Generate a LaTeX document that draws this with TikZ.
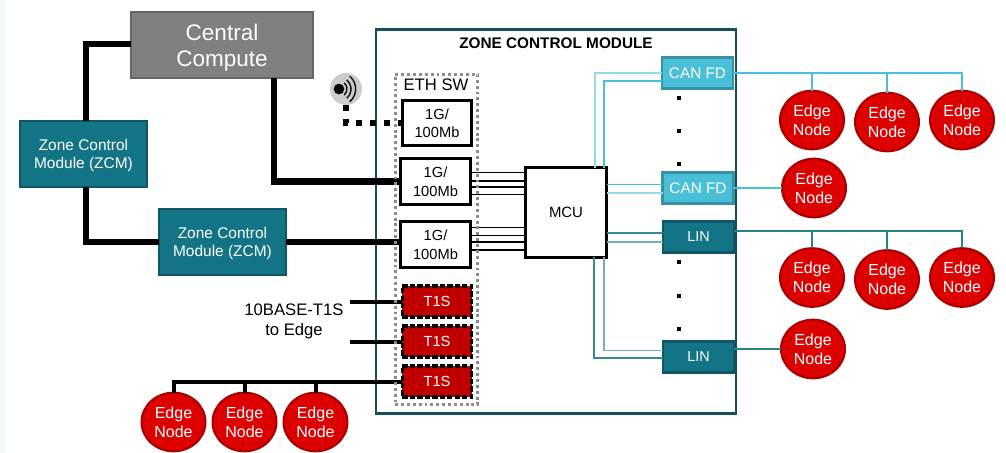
\documentclass[tikz,border=0pt]{standalone}
\usepackage{fontspec}
\setmainfont{Liberation Sans}
\usepackage{tikz}
\usetikzlibrary{positioning, shapes.geometric}
\definecolor{zcmteal}{HTML}{127485}
\definecolor{zcmedge}{HTML}{0F5766}
\definecolor{framedark}{HTML}{134F5C}
\definecolor{canblue}{HTML}{4ABFD8}
\definecolor{canedge}{HTML}{3A90A4}
\definecolor{canpale}{HTML}{95DAE9}
\definecolor{linpale}{HTML}{74B0BD}
\definecolor{edgered}{HTML}{DD0000}
\definecolor{edgedark}{HTML}{A80000}
\definecolor{tonesred}{HTML}{C00000}
\definecolor{stripe}{HTML}{F0F9FC}
\newcommand{\fsz}[2]{\fontsize{#1}{#2}\selectfont}

\begin{document}
\begin{tikzpicture}[
    x=0.75pt, y=-0.75pt,
    central/.style={draw=black!60, line width=1.5pt, fill=black!50, text=white, align=center, text depth=-1pt,
                    minimum width=137pt, minimum height=49pt, font=\fsz{16.9}{19.5}},
    zcm/.style={draw=zcmedge, line width=1.5pt, fill=zcmteal, text=white, align=center, text depth=-0.8pt,
                minimum width=95pt, minimum height=49.5pt, font=\fsz{11.6}{13.3}},
    zone/.style={draw=framedark, line width=2.2pt, fill=white, minimum width=270pt, minimum height=288pt},
    swbox/.style={draw=black!45, line width=2.2pt, dash pattern=on 2.2pt off 2.2pt,
                  minimum width=62pt, minimum height=248pt},
    port/.style={draw, line width=2.2pt, fill=white, align=center, text depth=-2.5pt,
                 minimum width=52pt, minimum height=34pt, font=\fsz{11}{13.8}},
    tones/.style={draw, line width=2.4pt, dashed, dash pattern=on 4pt off 1.6pt, fill=tonesred, text=white,
                  minimum width=52pt, minimum height=23.25pt, font=\fsz{11}{13}},
    mcubox/.style={draw, line width=2.2pt, fill=white, minimum width=61pt, minimum height=67pt, font=\fsz{11.2}{13}},
    canbox/.style={draw=canedge, line width=1.8pt, fill=canblue, text=white, text depth=-1.5pt,
                   minimum width=53pt, minimum height=23.5pt, font=\fsz{11.5}{13}},
    linbox/.style={draw=zcmedge, line width=1.8pt, fill=zcmteal, text=white, text depth=-1.5pt,
                   minimum width=53pt, minimum height=23.5pt, font=\fsz{10.8}{13}},
    edgenode/.style={ellipse, draw=edgedark, line width=1.5pt, fill=edgered, text=white, align=center, text depth=-2.5pt,
                     inner sep=0pt, minimum width=48pt, minimum height=44pt, font=\fsz{12}{14.25}},
    gapdot/.style={fill=black, inner sep=0pt, minimum size=3.2pt},
    trunk/.style={line width=4.9pt},
    stub/.style={line width=3pt},
    air/.style={line width=4.5pt, dash pattern=on 4.5pt off 6pt},
    bus/.style={line width=0.8pt, black},
    canwire/.style={line width=2.2pt, canblue},
    linwire/.style={line width=1.6pt, zcmteal!90!white},
    every node/.style={outer sep=0pt},
    node distance=8.25pt and 8.25pt,
]
\useasboundingbox (0,0) rectangle (1006,453);
\fill[stripe] (0,0) rectangle (5,453);

\node[zone] (zone) at (556,221.5) {};
\node[font=\bfseries\fsz{11.5}{13}] (title) at (556,43) {ZONE CONTROL MODULE};

\node[central] (cc) at (222,45) {Central\\Compute};
\node[zcm] (zcm1) at (83.5,154) {Zone Control\\Module (ZCM)};
\node[zcm] (zcm2) at (222.5,242) {Zone Control\\Module (ZCM)};

\node[port] (sw1) at (437,123) {1G/\\100Mb};
\node[port] (sw2) at (435.5,181.5) {1G/\\100Mb};
\node[port] (sw3) at (435.5,244.5) {1G/\\100Mb};
\node[tones] (t1) at (437,301.5) {T1S};
\node[tones, below=6.75pt of t1] (t2) {T1S};
\node[tones, below=6.75pt of t2] (t3) {T1S};
\node[font=\fsz{12.5}{15}, align=center] (tolabel) at (294,321.5) {10BASE-T1S\\to Edge};
\coordinate (tofree1) at (350,301.5);
\coordinate (tofree2) at (350,341.5);

\node[mcubox] (mcu) at (566,212.5) {MCU};
\node[canbox] (can1) at (697.5,73) {CAN FD};
\node[canbox] (can2) at (698,188) {CAN FD};
\node[linbox] (lin1) at (698.5,237) {LIN};
\node[linbox] (lin2) at (698.5,357) {LIN};

\foreach \y [count=\i] in {98,131,164} \node[gapdot] (cdot\i) at (679,\y) {};
\foreach \y [count=\i] in {262,296,329} \node[gapdot] (ldot\i) at (679,\y) {};

\node[edgenode] (ea1) at (812,120) {Edge\\Node};
\node[edgenode, right=of ea1, yshift=-1.5pt] (ea2) {Edge\\Node};
\node[edgenode, right=of ea2, yshift=1.5pt] (ea3) {Edge\\Node};
\node[edgenode] (ea4) at (814,188) {Edge\\Node};
\node[edgenode] (eb1) at (812,277.5) {Edge\\Node};
\node[edgenode, right=of eb1, yshift=-1.5pt] (eb2) {Edge\\Node};
\node[edgenode, right=of eb2, yshift=1.5pt] (eb3) {Edge\\Node};
\node[edgenode] (eb4) at (813,349) {Edge\\Node};
\node[edgenode] (ec1) at (173.5,422) {Edge\\Node};
\node[edgenode, right=5.25pt of ec1] (ec2) {Edge\\Node};
\node[edgenode, right=5.25pt of ec2] (ec3) {Edge\\Node};

\node[circle, fill=black!20, minimum size=24pt, inner sep=0pt] (wifi) at (346,89) {};
\node[circle, fill=black, minimum size=8pt, inner sep=0pt] (wifidot) at (339,89) {};
\foreach \r in {6,9,12.5}
  \draw[line width=1pt] (wifidot.center) ++(-50:\r pt) arc[start angle=-50, end angle=50, radius=\r pt];

\draw[trunk] (cc.west |- 0,44) -| (zcm1.north -| 86,0);
\draw[trunk] (zcm1.south -| 86,0) |- (zcm2.west);
\draw[trunk] (zcm2.east) -- (sw3.west |- zcm2.east);
\draw[trunk] (cc.south -| 274,0) |- (sw2.west);
\draw[air] (wifi.south) |- (sw1.west);
\draw[stub] (tofree1) -- (t1.west);
\draw[stub] (tofree2) -- (t2.west);
\draw[stub] (t3.west) -| (ec1.north);
\draw[stub] (ec2.north) -- (ec2.north |- t3.west);
\draw[stub] (ec3.north) -- (ec3.north |- t3.west);

\foreach \dy in {7.1,0.4,-4.1,-10}
  \draw[bus] ([yshift=\dy pt]sw2.east) -- ([yshift=\dy pt]mcu.west |- sw2.east);
\foreach \dy in {13.1,7.1,1.9,-4.1}
  \draw[bus] ([yshift=\dy pt]sw3.east) -- ([yshift=\dy pt]mcu.west |- sw3.east);

\draw[line width=1.2pt, canpale] (mcu.north -| 595,0) |- (can1.west);
\draw[line width=0.9pt, canblue] (mcu.north -| 604,0) |- ([yshift=-6pt]can1.west);
\draw[line width=0.9pt, canblue] ([yshift=2.5pt]can2.west) -- ([yshift=2.5pt]mcu.east |- can2.west);
\draw[line width=1.2pt, canpale] ([yshift=-3.7pt]can2.west) -- ([yshift=-3.7pt]mcu.east |- can2.west);
\draw[line width=0.9pt, zcmteal!85!white] ([yshift=3pt]lin1.west) -- ([yshift=3pt]mcu.east |- lin1.west);
\draw[line width=1.2pt, linpale] ([yshift=-3.7pt]lin1.west) -- ([yshift=-3.7pt]mcu.east |- lin1.west);
\draw[line width=0.9pt, zcmteal!85!white] (mcu.south -| 594,0) |- ([yshift=-0.75pt]lin2.west);
\draw[line width=1.2pt, linpale] (mcu.south -| 604,0) |- ([yshift=5pt]lin2.west);

\draw[canwire] (can1.east) -| (ea3.north);
\draw[canwire] (ea1.north) -- (ea1.north |- can1.east);
\draw[canwire] (ea2.north) -- (ea2.north |- can1.east);
\draw[canwire] (can2.east) -- (ea4.west);
\draw[linwire] ([yshift=4.5pt]lin1.east) -| (eb3.north);
\draw[linwire] (eb1.north) -- (eb1.north |- 0,231);
\draw[linwire] (eb2.north) -- (eb2.north |- 0,231);
\draw[linwire] (lin2.east |- eb4.west) -- (eb4.west);

\node[swbox] (swall) at (436.5,239.5) {};
\node[font=\fsz{12.5}{14}] (swlabel) at (436,85) {ETH SW};

\end{tikzpicture}
\end{document}
